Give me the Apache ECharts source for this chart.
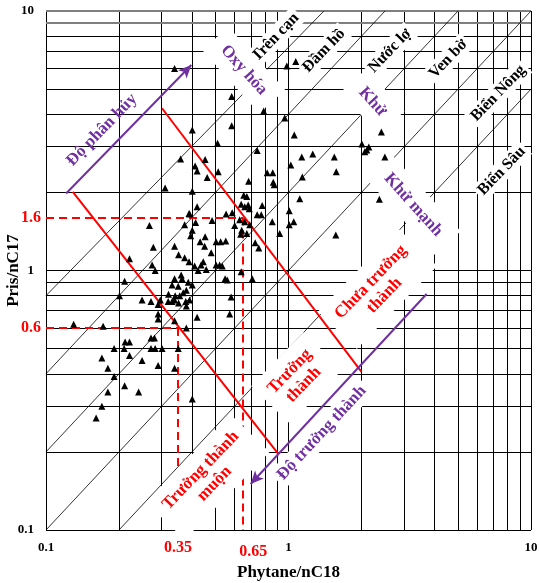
<!DOCTYPE html>
<html><head><meta charset="utf-8">
<script src="https://cdn.jsdelivr.net/npm/echarts@6/dist/echarts.min.js"></script>
<style>html,body{margin:0;padding:0;background:#fff}#c{width:539px;height:583px}</style>
</head><body><div id="c"></div>
<script>
// ---- data ----
const phytaneNC18 = [
 0.339,0.583,0.790,0.965,0.984,1.071,0.401,0.583,1.056,0.510,0.743,2.007,2.064,2.144,2.104,2.415,2.497,1.134,1.259,1.545,
 1.574,1.140,1.022,0.359,0.453,0.412,0.420,0.462,0.513,0.310,0.401,0.817,0.861,0.865,0.873,0.685,1.113,2.370,0.654,0.673,
 0.420,0.389,0.638,0.660,0.682,0.689,0.779,1.007,0.391,0.553,0.586,0.743,0.772,0.267,0.373,0.414,0.484,0.600,0.629,0.660,
 0.692,0.641,0.673,0.635,0.857,1.007,1.051,0.920,1.567,0.401,0.395,0.453,0.432,0.451,0.503,0.525,0.551,0.729,0.754,0.277,
 0.339,0.480,
 0.221,0.352,0.373,0.389,0.410,0.445,0.436,0.274,0.282,0.424,0.458,0.503,0.520,0.533,0.638,0.548,0.559,0.709,0.211,0.339,
 0.361,0.364,0.331,0.351,0.386,0.401,0.201,0.320,0.341,0.356,0.368,0.379,0.249,0.271,0.296,0.319,0.331,0.339,0.352,0.377,
 0.391,0.580,0.290,0.379,0.572,0.420,0.290,0.290,0.339,0.130,0.172,0.379,
 0.212,0.221,0.271,0.280,0.191,0.210,0.271,0.282,0.301,0.351,0.221,0.170,0.249,0.180,0.290,0.339,0.191,0.211,0.241,0.180,
 0.401,0.170,0.161
];
const prisNC17 = [
 6.00,4.68,4.12,3.87,6.14,6.39,3.48,3.61,3.33,3.09,2.90,3.07,2.87,2.99,2.91,3.42,2.74,2.74,2.81,2.74,
 2.40,2.29,2.55,2.69,2.68,2.53,2.42,2.28,2.40,2.08,2.02,2.38,2.38,2.19,2.14,2.21,1.89,1.88,1.95,1.93,
 1.76,1.66,1.80,1.76,1.79,1.73,1.78,1.70,1.65,1.65,1.67,1.64,1.64,1.49,1.50,1.53,1.56,1.49,1.57,1.54,
 1.50,1.43,1.39,1.38,1.54,1.50,1.54,1.39,1.37,1.43,1.36,1.35,1.29,1.24,1.29,1.29,1.30,1.28,1.22,1.23,
 1.24,1.17,
 1.11,1.15,1.12,1.08,1.04,1.08,1.05,1.05,1.00,1.00,1.01,1.05,1.05,1.04,0.99,0.93,0.92,0.93,0.91,0.93,
 0.96,0.93,0.88,0.87,0.90,0.88,0.80,0.81,0.80,0.80,0.82,0.84,0.77,0.76,0.77,0.76,0.76,0.77,0.75,0.76,
 0.77,0.79,0.74,0.73,0.68,0.66,0.68,0.65,0.64,0.62,0.61,0.60,
 0.53,0.53,0.55,0.55,0.50,0.50,0.50,0.50,0.50,0.50,0.47,0.46,0.45,0.42,0.43,0.42,0.39,0.36,0.34,0.34,
 0.32,0.30,0.27
];
const axisTickValues = [0.1, 1, 10];
const gridDecades = [0.1, 1];
const gridFactors = [1, 2, 3, 4, 5, 6, 7, 8, 9];
// Pr/Ph iso-ratio lines: [x1, y1, x2, y2]
const isoLines = [
 [0.2, 0.1, 10, 5],
 [0.1, 0.1, 10, 10],
 [0.1, 0.2, 5, 10],
 [0.1, 0.4, 2.5, 10],
 [0.1, 0.8, 1.4, 10]
];
// maturity boundary lines
const maturityLines = [
 [0.129, 2.01, 0.906, 0.197],
 [0.301, 4.22, 2.0, 0.407]
];
const cutPris = [1.6, 0.6];
const cutPhytane = [0.65, 0.35];
// arrows: [x1, y1, x2, y2]
const arrows = [
 [0.121, 1.98, 0.3975, 6.19],
 [3.71, 0.812, 0.698, 0.1504]
];

// ---- styles / layout ----
const FONT = '"Liberation Serif", "Times New Roman", serif';
const RED = '#ff0000', PURPLE = '#7030a0';
const annotations = [
 {text:'Trên cạn', at:[0.883,7.92], rotate:46, color:'#000', size:16, bg:'#fff', pad:[1,3]},
 {text:'Đầm hồ', at:[1.40,7.03], rotate:46, color:'#000', size:16, bg:'#fff', pad:[1,3]},
 {text:'Nước lợ', at:[2.62,7.03], rotate:46, color:'#000', size:16, bg:'#fff', pad:[1,3]},
 {text:'Ven bờ', at:[4.56,6.53], rotate:46, color:'#000', size:16, bg:'#fff', pad:[1,3]},
 {text:'Biển Nông', at:[7.33,4.82], rotate:46, color:'#000', size:16, bg:'#fff', pad:[1,3]},
 {text:'Biển Sâu', at:[7.57,2.42], rotate:46, color:'#000', size:16, bg:'#fff', pad:[1,3]},
 {text:'Oxy hóa', at:[0.654,5.92], rotate:-48, color:PURPLE, size:17, bg:'#fff', pad:[8,12]},
 {text:'Khử', at:[2.22,4.47], rotate:-48, color:PURPLE, size:17, bg:'#fff', pad:[8,12]},
 {text:'Khử mạnh', at:[3.27,1.79], rotate:-48, color:PURPLE, size:17, bg:'#fff', pad:[8,12]},
 {text:'Độ phân hủy', at:[0.170,3.48], rotate:46, color:PURPLE, size:17, bg:null, pad:0},
 {text:'Chưa trưởng\nthành', at:[2.33,0.85], rotate:46, color:RED, size:17, bg:'#fff', pad:[8,10]},
 {text:'Trưởng\nthành', at:[1.081,0.385], rotate:46, color:RED, size:17, bg:'#fff', pad:[8,10]},
 {text:'Trưởng thành\nmuộn', at:[0.464,0.16], rotate:46, color:RED, size:17, bg:'#fff', pad:[8,10]},
 {text:'Độ trưởng thành', at:[1.371,0.2366], rotate:47, color:PURPLE, size:17, bg:'#fff', pad:[2,4]}
];
const redTickLabels = [
 {text:'1.6', at:[0.1, cutPris[0]], position:'left', offset:[0,0]},
 {text:'0.6', at:[0.1, cutPris[1]], position:'left', offset:[0,0]},
 {text:'0.65', at:[cutPhytane[0], 0.1], position:'bottom', offset:[10,4]},
 {text:'0.35', at:[cutPhytane[1], 0.1], position:'bottom', offset:[0,0]}
];

const gridValues = [];
gridDecades.forEach(d => gridFactors.forEach(f => gridValues.push(+(d*f).toPrecision(3))));
gridValues.push(10);

function seg(s){ return [{coord:[s[0],s[1]]},{coord:[s[2],s[3]]}]; }

const gridMarks = [];
gridValues.forEach(v => {
  gridMarks.push({xAxis:v, lineStyle:{color:'#000', width:1, type:'solid'}});
  const gray = (v === 9 || v === 10);
  gridMarks.push({yAxis:v, lineStyle:{color: gray ? '#7f7f7f' : '#000', width: gray ? 2 : 1, type:'solid'}});
});

const chart = echarts.init(document.getElementById('c'), null, {renderer:'canvas'});
const emptyLine = (z, markLine) => ({type:'line', data:[], z:z, silent:true,
  markLine:Object.assign({z:z, silent:true, symbol:['none','none'], label:{show:false}, animation:false}, markLine)});

chart.setOption({
  animation:false,
  backgroundColor:'#fff',
  grid:{left:46, right:8, top:11, bottom:53, outerBoundsMode:'none', containLabel:false},
  xAxis:{type:'log', logBase:10, min:0.1, max:10,
    axisLine:{show:false}, axisTick:{show:false}, splitLine:{show:false},
    axisLabel:{color:'#000', fontFamily:FONT, fontWeight:'bold', fontSize:13, margin:11,
      formatter:v => axisTickValues.includes(+v) ? String(+v) : ''},
    name:'Phytane/nC18', nameLocation:'middle', nameGap:34, nameMoveOverlap:false,
    nameTextStyle:{color:'#000', fontFamily:FONT, fontWeight:'bold', fontSize:17}},
  yAxis:{type:'log', logBase:10, min:0.1, max:10,
    axisLine:{show:false}, axisTick:{show:false}, splitLine:{show:false},
    axisLabel:{color:'#000', fontFamily:FONT, fontWeight:'bold', fontSize:13, margin:12,
      formatter:v => axisTickValues.includes(+v) ? String(+v) : ''},
    name:'Pris/nC17', nameLocation:'middle', nameGap:24, nameMoveOverlap:false,
    nameTextStyle:{color:'#000', fontFamily:FONT, fontWeight:'bold', fontSize:17}},
  series:[
    emptyLine(1, {data:gridMarks}),
    emptyLine(1, {data:isoLines.map(seg), lineStyle:{color:'#000', width:0.8, type:'solid'}}),
    emptyLine(1, {data:[
        [{coord:[0.1,cutPris[0]]},{coord:[cutPhytane[0],cutPris[0]]}],
        [{coord:[cutPhytane[0],cutPris[0]]},{coord:[cutPhytane[0],0.1]}],
        [{coord:[0.1,cutPris[1]]},{coord:[cutPhytane[1],cutPris[1]]}],
        [{coord:[cutPhytane[1],cutPris[1]]},{coord:[cutPhytane[1],0.1]}]
      ], lineStyle:{color:RED, width:2, type:[8,5]}}),
    {type:'scatter', z:3, silent:true, symbolSize:0, itemStyle:{color:'#fff', opacity:1},
      data:annotations.map(a => ({value:a.at, label:{show:true, position:'inside', formatter:a.text, opacity:1,
        rotate:a.rotate, color:a.color, fontFamily:FONT, fontWeight:'bold', fontSize:a.size,
        lineHeight:a.size+2, backgroundColor:a.bg || 'transparent', padding:a.pad, align:'center', verticalAlign:'middle'}}))},
    emptyLine(4, {data:maturityLines.map(seg), lineStyle:{color:RED, width:2, type:'solid'}}),
    emptyLine(4, {data:arrows.map(seg), symbol:['none','arrow'], symbolSize:[9,13], lineStyle:{color:PURPLE, width:2, type:'solid'}, itemStyle:{color:PURPLE}}),
    {type:'scatter', z:5, silent:true, symbol:'triangle', symbolSize:7, itemStyle:{color:'#000', opacity:1},
      data:phytaneNC18.map((x,i) => [x, prisNC17[i]])},
    {type:'scatter', z:5, silent:true, symbolSize:0, itemStyle:{color:'#fff', opacity:1}, clip:false,
      data:redTickLabels.map(t => ({value:t.at, label:{show:true, position:t.position, distance:t.position==='left'?5:10, opacity:1,
        offset:t.offset, formatter:t.text, color:RED, fontFamily:FONT, fontWeight:'bold', fontSize:16}}))}
  ]
});
</script></body></html>
